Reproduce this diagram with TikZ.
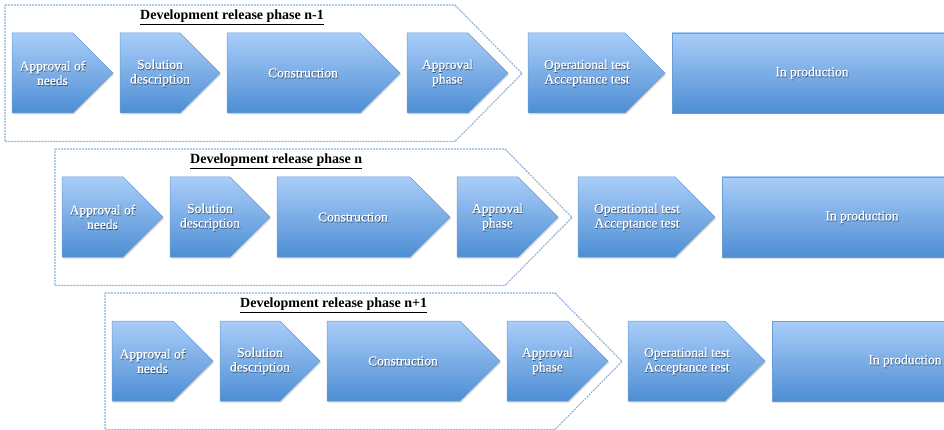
\documentclass[tikz,border=0pt]{standalone}
\usepackage{fontspec}
\setmainfont{Liberation Serif}
\newfontfamily\lblfont{Liberation Serif}[FakeBold=0.6]
\usetikzlibrary{shadows}
\definecolor{chtop}{HTML}{A9CDF8}
\definecolor{chbot}{HTML}{4D8ED4}
\definecolor{chedge}{HTML}{6A9CD6}
\definecolor{dashc}{HTML}{8EB0D8}
\tikzset{
  chevbox/.style={top color=chtop,bottom color=chbot,draw=chedge,line width=0.5pt,
    drop shadow={opacity=0.3,shadow xshift=1pt,shadow yshift=-1.5pt}},
  phasebox/.style={draw=dashc,line width=1.1pt,dash pattern=on 2pt off 1pt},
  lbl/.style={text=white,align=center,font=\lblfont\fontsize{13.5}{14.5}\selectfont,inner sep=0pt},
  lblsh/.style={text=black,opacity=0.4,align=center,font=\lblfont\fontsize{13.5}{14.5}\selectfont,inner sep=0pt},
  ttl/.style={font=\bfseries\fontsize{14}{16}\selectfont,anchor=west,inner sep=0pt}
}
\newcommand\chev[3]{\path[chevbox] (#1,#3) -- (#2-40,#3) -- (#2,#3+40) -- (#2-40,#3+80) -- (#1,#3+80) -- cycle;}
\newcommand\lbl[4]{\node[lblsh] (#1s) at (#2+0.7,#3+1.0) {#4};\node[lbl] (#1) at (#2,#3) {#4};}
\newcommand\devrow[5]{%
\begin{scope}[shift={(#1,#2)}]
  \draw[phasebox] (5,5) -- (455,5) -- (522,73.5) -- (455,141.5) -- (5,141.5) -- cycle;
  \node[ttl] (title#3) at (140,17) {\underline{#4}};
  \chev{12}{113}{33}
  \chev{120}{220}{33}
  \chev{227}{400}{33}
  \chev{407}{508}{33}
  \chev{528}{665}{33}
  \path[chevbox] (672,33) rectangle (952,113);
  \lbl{need#3}{52.5}{73}{Approval of\\needs}
  \lbl{sol#3}{160}{73}{Solution\\description}
  \lbl{cons#3}{303}{73}{Construction}
  \lbl{appr#3}{447.5}{73}{Approval\\phase}
  \lbl{test#3}{587}{73}{Operational test\\Acceptance test}
  \lbl{prod#3}{#5}{73}{In production}
\end{scope}}
\begin{document}
\begin{tikzpicture}[x=1pt,y=-1pt]
  \useasboundingbox (0,0) rectangle (944,430);
  \clip (0,0) rectangle (944,430);
  \devrow{0}{0}{a}{Development release phase n-1}{812}
  \devrow{50}{144}{b}{Development release phase n}{812}
  \devrow{100}{288}{c}{Development release phase n+1}{805}
\end{tikzpicture}
\end{document}
